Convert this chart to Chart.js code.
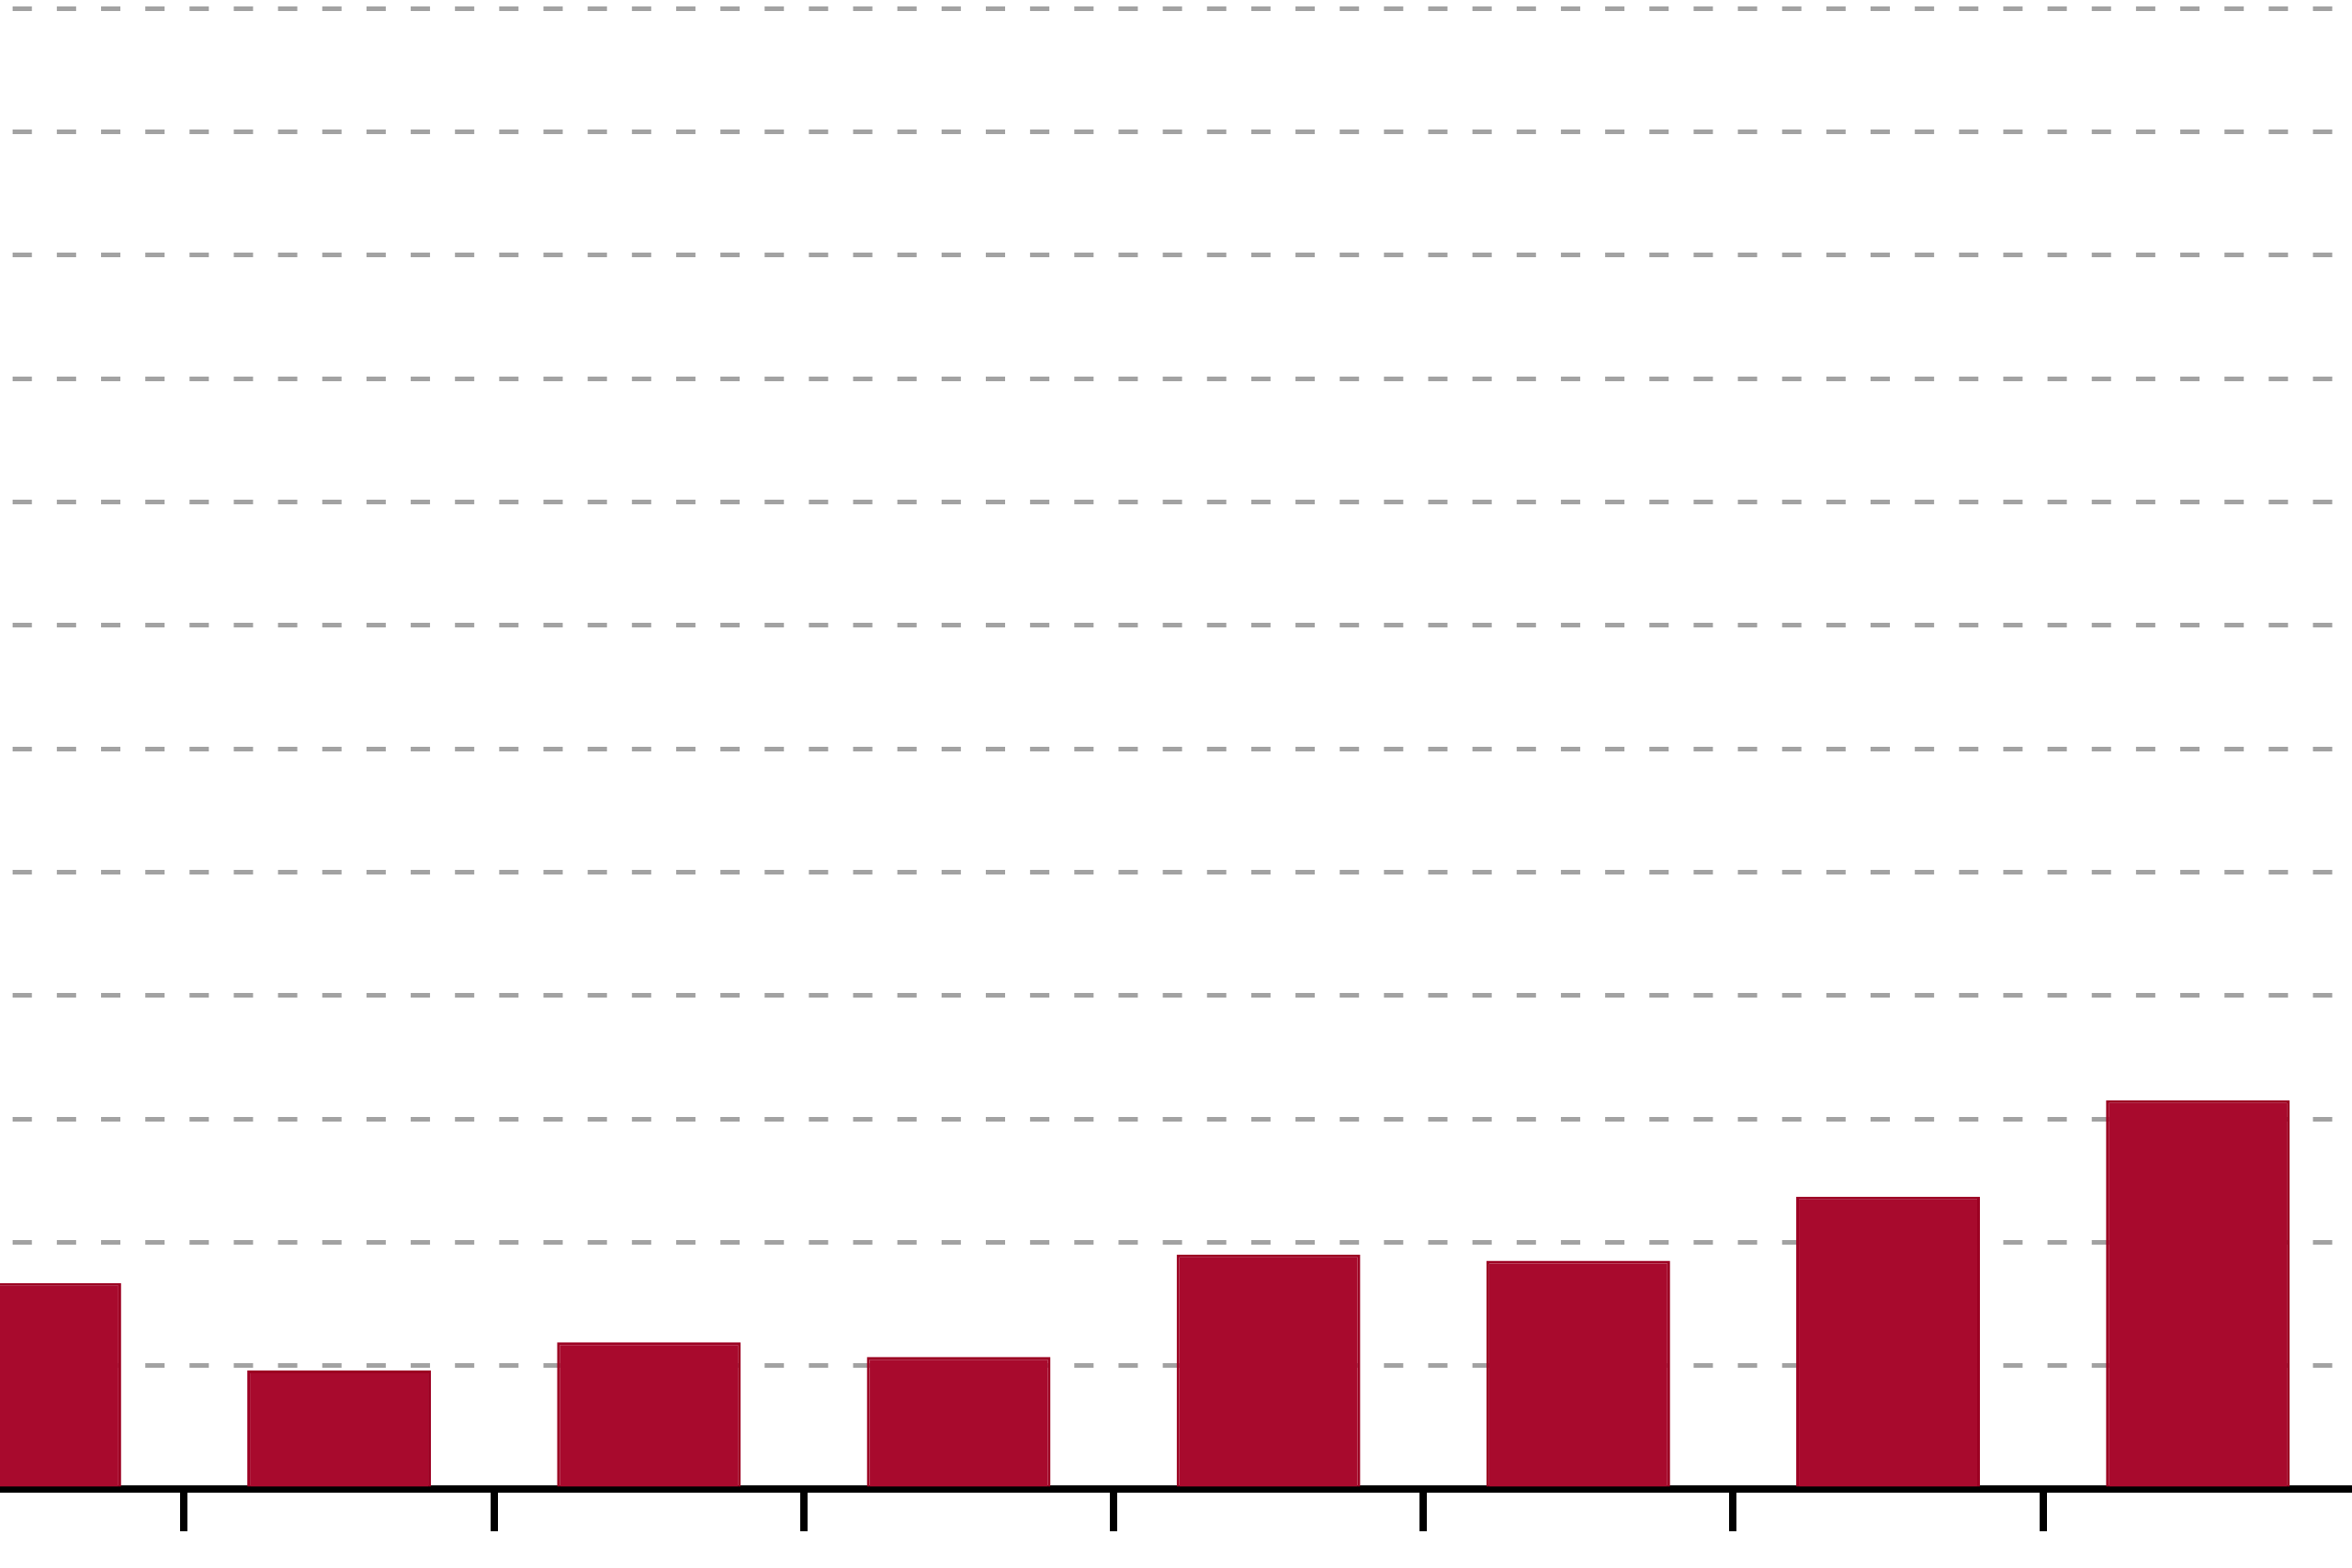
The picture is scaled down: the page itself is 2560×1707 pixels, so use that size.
<!DOCTYPE html>
<html>
<head>
<meta charset="utf-8">
<script src="https://cdn.jsdelivr.net/npm/chart.js@4"></script>
<style>
  html, body { margin: 0; padding: 0; background: #ffffff; overflow: hidden; width: 2560px; height: 1707px; }
  #wrap { position: absolute; left: -200px; top: 0; width: 2800px; height: 1707px; }
  canvas { display: block; }
</style>
</head>
<body>
<div id="wrap"><canvas id="c" width="2800" height="1707"></canvas></div>
<script>
// Data (no labels are visible in the reference)
const categories = ['1', '2', '3', '4', '5', '6', '7', '8'];
const values = [1.67, 0.96, 1.19, 1.07, 1.90, 1.85, 2.37, 3.15];
const yMin = 0;
const yMax = 12;
const yStep = 1;

const barColor = '#A80A2D';
const barEdge = '#9C0022';
const gridColor = '#a2a2a2';

new Chart(document.getElementById('c'), {
  type: 'bar',
  data: {
    labels: categories,
    datasets: [{
      data: values,
      backgroundColor: barColor,
      borderColor: barEdge,
      borderWidth: 3,
      borderSkipped: 'start',
      categoryPercentage: 1.0,
      barPercentage: 0.593
    }]
  },
  options: {
    responsive: false,
    devicePixelRatio: 1,
    animation: false,
    events: [],
    layout: { padding: { left: 63.3, right: 39.2, top: 9, bottom: 26 } },
    plugins: {
      legend: { display: false },
      tooltip: { enabled: false },
      title: { display: false }
    },
    scales: {
      x: {
        z: 1,
        offset: true,
        grid: {
          display: true,
          offset: true,
          drawOnChartArea: false,
          drawTicks: true,
          tickLength: 46,
          lineWidth: 8,
          color: (ctx) => ctx.type === 'tick' ? '#000000' : 'rgba(0,0,0,0)'
        },
        border: { display: true, color: '#000000', width: 8 },
        ticks: { display: false },
        afterFit: (scale) => { scale.height = 60; }
      },
      y: {
        min: yMin,
        max: yMax,
        ticks: { display: false, stepSize: yStep },
        grid: {
          display: true,
          drawTicks: false,
          color: gridColor,
          lineWidth: 5
        },
        border: { display: false, dash: [21, 27.15], dashOffset: -6.25 },
        afterFit: (scale) => { scale.width = 0; }
      }
    }
  }
});
</script>
</body>
</html>
